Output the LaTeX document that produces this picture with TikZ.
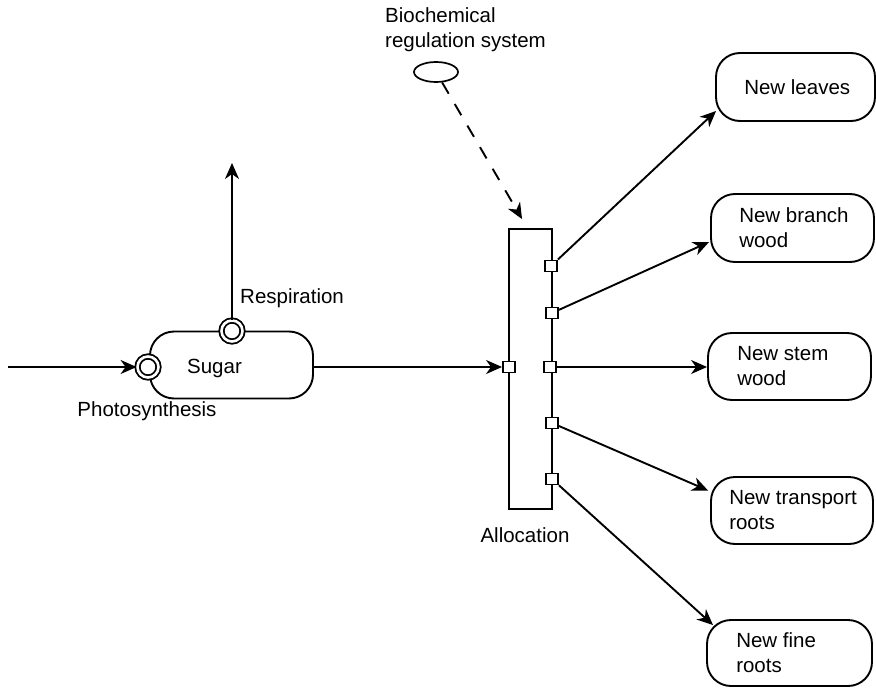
\documentclass[tikz,border=0pt]{standalone}
\usepackage{fontspec}
\setmainfont{Liberation Sans}
\usetikzlibrary{arrows.meta,calc,shapes.geometric}

\tikzset{
  every node/.style={font=\fontsize{20.5}{25}\selectfont},
  conn/.style={line width=1.9pt, -{Stealth[length=16pt,width=14pt,inset=5pt]}},
  pool/.style={draw, line width=1.9pt, rounded corners=24pt, inner sep=0pt},
  port/.style={draw, fill=white, line width=1.9pt, minimum width=12pt,
               minimum height=11pt, inner sep=0pt},
  ring/.style={circle, draw, double, double distance=2.6pt, line width=1.8pt,
               fill=white, minimum size=21pt, inner sep=0pt},
  lbl/.style={inner sep=0pt},
  boxtxt/.style={inner sep=0pt, align=left, anchor=west},
}

\begin{document}
\begin{tikzpicture}[x=1pt,y=-1pt]
\useasboundingbox (0,0) rectangle (876,688);

% sugar pool with its inflow and outflow rings
\node[pool, minimum width=163pt, minimum height=67pt,
      label={[lbl, xshift=-17pt, yshift=-3pt]center:Sugar}] (sugar) at (231.5,365) {};
\node[ring] (rin)  at (148,367) {};
\node[ring] (rout) at (232,331) {};
\coordinate (src)  at (8,367);
\coordinate (resp) at (232,163);
\draw[conn] (src) -- (rin);
\draw[conn] (rout) -- (resp);
\node[lbl, anchor=west] (resptxt) at (240,298) {Respiration};
\node[lbl] (phototxt) at (147,411) {Photosynthesis};

% allocation switch and its ports
\node[draw, line width=1.9pt, minimum width=43pt, minimum height=280pt,
      inner sep=0pt] (alloc) at (530.5,369) {};
\node[lbl] (alloctxt) at (525,535) {Allocation};
\node[port] (pin) at (509,367) {};
\node[port] (p1) at (551,266) {};
\node[port] (p2) at (552,313) {};
\node[port] (p3) at (550,367) {};
\node[port] (p4) at (552,423) {};
\node[port] (p5) at (552,479) {};
\draw[conn] (pin.west -| sugar.east) -- (pin);

% regulation signal
\node[lbl, align=left, anchor=north west] (biotxt) at (385,7)
      {Biochemical\\regulation system};
\node[ellipse, draw, line width=1.7pt, minimum width=44pt, minimum height=20pt,
      inner sep=0pt] (bio) at (436,72) {};
\draw[conn, dash pattern=on 13pt off 12pt] (bio) -- ($(alloc.north west)+(14,-9)$);

% growth sinks
\node[pool, minimum width=159pt, minimum height=68pt,
      label={[boxtxt, xshift=29pt]west:New leaves}] (leaves) at (795.5,87) {};
\node[pool, minimum width=163pt, minimum height=68pt,
      label={[boxtxt, xshift=29pt]west:New branch\\wood}] (branch) at (792.5,228) {};
\node[pool, minimum width=163pt, minimum height=67pt,
      label={[boxtxt, xshift=30pt]west:New stem\\wood}] (stem) at (789.5,366.5) {};
\node[pool, minimum width=162pt, minimum height=67pt,
      label={[boxtxt, xshift=19pt]west:New transport\\roots}] (transport) at (792,510.5) {};
\node[pool, minimum width=165pt, minimum height=66pt,
      label={[boxtxt, xshift=30pt]west:New fine\\roots}] (fine) at (789.5,653) {};

\draw[conn] (p1) -- ($(leaves.west)+(1,24)$);
\draw[conn] (p2) -- ($(branch.west)+(-1,14)$);
\draw[conn] (p3) -- (p3 -| stem.west);
\draw[conn] (p4) -- ($(transport.west)+(-2,-20)$);
\draw[conn] (p5) -- ($(fine.north west)+(7,6)$);
\end{tikzpicture}
\end{document}
